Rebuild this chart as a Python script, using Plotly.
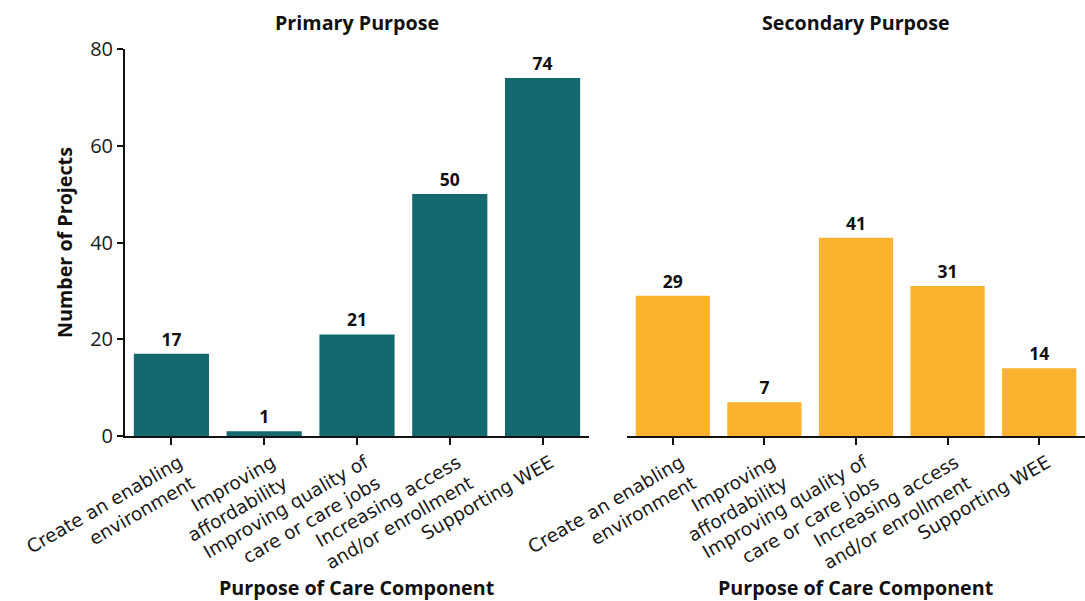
import plotly.graph_objects as go
from plotly.subplots import make_subplots

categories = [
    "Create an enabling<br>environment",
    "Improving<br>affordability",
    "Improving quality of<br>care or care jobs",
    "Increasing access<br>and/or enrollment",
    "Supporting WEE",
]
primary_counts = [17, 1, 21, 50, 74]
secondary_counts = [29, 7, 41, 31, 14]
y_ticks = [0, 20, 40, 60, 80]

TEAL = "#13696f"
GOLD = "#fbb22e"
FONT = "Open Sans"
TICK_FONT = "DejaVu Sans"

fig = make_subplots(rows=1, cols=2, shared_yaxes=False, horizontal_spacing=0.04)

for col, vals, color in [(1, primary_counts, TEAL), (2, secondary_counts, GOLD)]:
    fig.add_trace(
        go.Bar(
            x=list(range(len(categories))),
            y=vals,
            marker_color=color,
            marker_line_width=0,
            text=[str(v) for v in vals],
            textposition="outside",
            cliponaxis=False,
            textfont=dict(family=FONT, size=17.5, color="#111111", weight="bold"),
            showlegend=False,
        ),
        row=1, col=col,
    )

left_dom = [0.0, 0.4833]
right_dom = [0.5229, 1.0]

xaxis_common = dict(
    tickmode="array",
    tickvals=list(range(len(categories))),
    ticktext=categories,
    tickangle=-30,
    range=[-0.5, 4.5],
    showline=True,
    linecolor="#111111",
    linewidth=2,
    ticks="outside",
    ticklen=7,
    tickwidth=2,
    tickcolor="#111111",
    showgrid=False,
    zeroline=False,
    ticklabelshift=8,
    tickfont=dict(family=TICK_FONT, size=18.5, color="#1a1a1a"),
)
fig.update_layout(
    xaxis=dict(domain=left_dom, **xaxis_common),
    xaxis2=dict(domain=right_dom, **xaxis_common),
    yaxis=dict(
        range=[0, 80],
        tickvals=y_ticks,
        showline=True,
        linecolor="#111111",
        linewidth=2,
        ticks="outside",
        ticklen=6,
        tickwidth=2,
        tickcolor="#111111",
        showgrid=False,
        zeroline=False,
        tickfont=dict(family=FONT, size=20, color="#1a1a1a"),
    ),
    yaxis2=dict(
        range=[0, 80],
        showline=False,
        showticklabels=False,
        ticks="",
        showgrid=False,
        zeroline=False,
    ),
    bargap=0.19,
    width=1085,
    height=601,
    margin=dict(l=125, r=0, t=49, b=165),
    plot_bgcolor="white",
    paper_bgcolor="white",
    font=dict(family=FONT),
)

title_font = dict(family=FONT, size=19.7, color="#111111", weight="bold")
plot_w = 1085 - 125
plot_h = 601 - 49 - 165


def py(pixel_y):
    # pixel row -> paper y
    return (601 - 165 - pixel_y) / plot_h


def px(pixel_x):
    # pixel column -> paper x
    return (pixel_x - 125) / plot_w


for text, x, y in [
    ("Primary Purpose", sum(left_dom) / 2, py(22)),
    ("Secondary Purpose", sum(right_dom) / 2, py(22)),
    ("Purpose of Care Component", sum(left_dom) / 2, py(587)),
    ("Purpose of Care Component", sum(right_dom) / 2, py(587)),
]:
    fig.add_annotation(
        text=text, x=x, y=y, xref="paper", yref="paper",
        showarrow=False, font=title_font, xanchor="center", yanchor="middle",
    )

fig.add_annotation(
    text="Number of Projects", x=px(65), y=py(243),
    xref="paper", yref="paper", showarrow=False, textangle=-90,
    font=title_font, xanchor="center", yanchor="middle",
)

fig.write_html("out.html")
